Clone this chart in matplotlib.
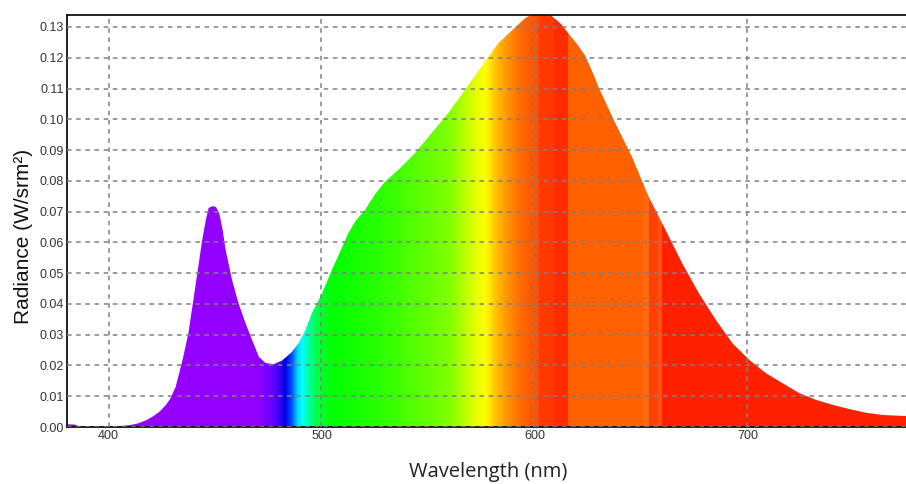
import numpy as np
import matplotlib
matplotlib.use("Agg")
import matplotlib.pyplot as plt

# spectrum
wavelength = [380, 384, 386, 395, 405, 410, 414, 418, 421, 424, 427, 429, 431.5, 433,
              435, 437.5, 439.5, 441, 442.5, 444, 445.7, 447, 449, 450.5, 452, 453.6,
              455, 458, 461, 464.3, 467.4, 470.6, 473.7, 477.6, 481.5, 486, 489.3,
              492.4, 495.5, 500, 505, 508, 512.6, 516, 520.4, 525, 529.8, 536, 543.9,
              551.7, 559.5, 567.3, 575, 583, 589.3, 595.5, 599, 603, 607, 612.5,
              617.2, 620, 624, 628.2, 630, 638, 645.8, 653.7, 661.6, 669.4, 677.3,
              685.2, 693, 700.9, 708.7, 716.6, 724.4, 732.3, 740, 748, 756, 763.7,
              773, 780]
radiance = [0.0009, 0.0008, 0.0003, 0.0003, 0.0003, 0.0006, 0.0012, 0.0023, 0.0035,
            0.0050, 0.0072, 0.0092, 0.0130, 0.0170, 0.0225, 0.0305, 0.0397, 0.0467,
            0.0537, 0.0608, 0.0673, 0.0712, 0.0718, 0.0714, 0.0695, 0.0640, 0.0575,
            0.0478, 0.0403, 0.0338, 0.0283, 0.0228, 0.0208, 0.0204, 0.0216, 0.0243,
            0.0273, 0.0315, 0.0370, 0.0430, 0.0512, 0.0558, 0.0630, 0.0670, 0.0705,
            0.0755, 0.0797, 0.0835, 0.0890, 0.0955, 0.1020, 0.1095, 0.1170, 0.1247,
            0.1288, 0.1328, 0.1342, 0.1345, 0.1342, 0.1310, 0.1268, 0.1245, 0.1205,
            0.1138, 0.1106, 0.0987, 0.0878, 0.0748, 0.0640, 0.0532, 0.0434, 0.0348,
            0.0272, 0.0218, 0.0175, 0.0142, 0.0110, 0.0088, 0.0072, 0.0058, 0.0046,
            0.0039, 0.0036, 0.0035]

x_ticks = [400, 500, 600, 700]
y_ticks = [0.00, 0.01, 0.02, 0.03, 0.04, 0.05, 0.06, 0.07, 0.08, 0.09, 0.10, 0.11, 0.12, 0.13]

# colour of the fill along the wavelength axis
stop_wl = [380, 470, 478, 483, 486, 489, 491, 494, 498, 505, 530, 560, 572, 577, 582,
           588, 594, 601.9, 602, 608.9, 609, 615.9, 616, 650.9, 651, 653.9, 654, 657.9,
           658, 659.9, 660, 780]
stop_col = ['#9a00ff', '#9200ff', '#6000ff', '#0000e8', '#0050ff', '#00e0ff', '#00ffff',
            '#00ffa0', '#00ff40', '#00ff00', '#30ff00', '#80ff00', '#e0ff00', '#ffff00',
            '#ffc000', '#ff9000', '#ff6800', '#ff5000', '#ff3a00', '#ff3a00', '#ff2c00',
            '#ff2c00', '#ff6000', '#ff6000', '#ff6a10', '#ff6a10', '#ff4008', '#ff4008',
            '#ff5010', '#ff5010', '#ff2000', '#ff2000']

fig = plt.figure(figsize=(9.06, 4.84), dpi=100)
ax = fig.add_axes([67 / 906, 1 - 427 / 484, 1 - 67 / 906, (427 - 15) / 484])

wl_fine = np.linspace(380, 780, 2000)
rgb_stops = np.array([matplotlib.colors.to_rgb(c) for c in stop_col])
rgb = np.stack([np.interp(wl_fine, stop_wl, rgb_stops[:, k]) for k in range(3)], axis=-1)

clip = ax.fill_between(wavelength, radiance, 0, facecolor='none', edgecolor='none')
im = ax.imshow(rgb[np.newaxis, :, :], extent=[380, 780, 0, 0.14], aspect='auto',
               origin='lower', interpolation='nearest', zorder=1)
im.set_clip_path(clip.get_paths()[0], transform=ax.transData)

ax.set_xlim(380.5, 774.5)
ax.set_ylim(0, 0.1339)
ax.set_xticks(x_ticks)
ax.set_yticks(y_ticks)
ax.set_yticklabels([f'{v:.2f}' for v in y_ticks])
ax.tick_params(length=0, pad=2, labelsize=9, colors='#333333')
for lab in ax.get_xticklabels() + ax.get_yticklabels():
    lab.set_family(['Liberation Sans Narrow', 'Liberation Sans'])

ax.grid(True, color='#808080', linestyle=(0, (3, 3)), linewidth=1.1, zorder=3)
ax.set_axisbelow(False)
for s in ['left', 'top', 'bottom']:
    ax.spines[s].set_color('#111111')
    ax.spines[s].set_linewidth(1.3)
ax.spines['right'].set_visible(False)

fig.text(0.026, 0.511, 'Radiance (W/srm²)', rotation=90, ha='center', va='center',
         fontsize=15, family='Liberation Sans', color='#111111')
fig.text(0.539, 0.004, 'Wavelength (nm)', ha='center', va='bottom',
         fontsize=14.5, family='Open Sans', color='#222222')

fig.savefig('out.png', dpi=100)
